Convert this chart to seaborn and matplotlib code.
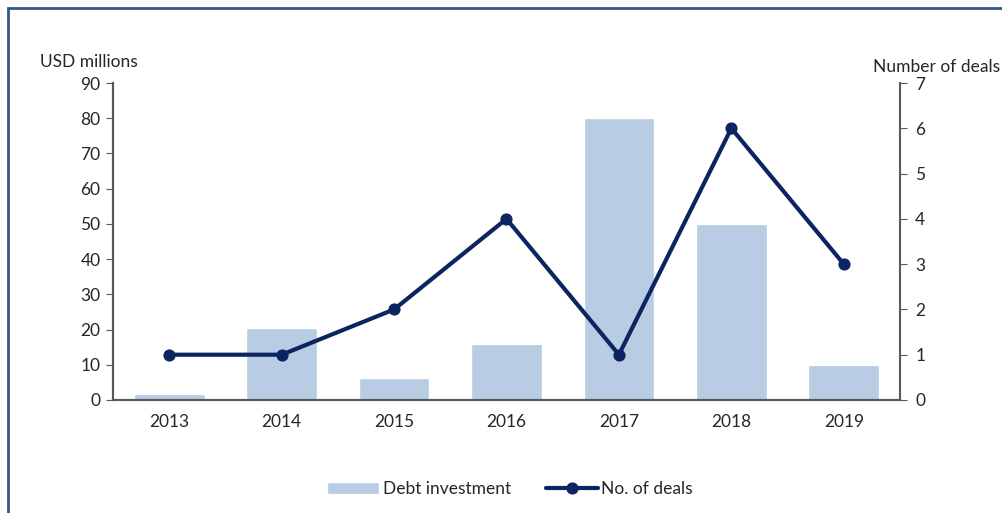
import matplotlib.pyplot as plt
import matplotlib.patches as patches
import seaborn as sns
import numpy as np

years = ["2013", "2014", "2015", "2016", "2017", "2018", "2019"]
debt_investment = [1.7, 20.3, 6.3, 16.0, 80.0, 50.0, 10.0]
num_deals = [1, 1, 2, 4, 1, 6, 3]

bar_color = "#b8cce4"
line_color = "#0c2461"
spine_color = "#595959"

sns.set_style("white")
plt.rcParams["font.family"] = ["Lato", "DejaVu Sans"]
plt.rcParams["font.size"] = 12.5

fig = plt.figure(figsize=(10.02, 5.13), dpi=100)
ax = fig.add_axes([113 / 1002, 1 - 400 / 513, 787 / 1002, 317 / 513])

sns.barplot(x=years, y=debt_investment, color=bar_color, width=0.63,
            saturation=1, ax=ax, label="Debt investment")
ax.set_ylim(0, 90)
ax.set_yticks(np.arange(0, 91, 10))
ax.set_xlim(-0.5, 6.5)
ax.set_xticks(np.arange(7))
ax.set_xticklabels(years)
ax.set_xticks(np.arange(-0.5, 7, 1), minor=True)
ax.tick_params(axis="x", which="major", length=0, pad=10)
ax.tick_params(axis="x", which="minor", length=5, direction="out", color=spine_color)
ax.tick_params(axis="y", length=5, direction="out", color=spine_color, pad=4)

ax2 = ax.twinx()
sns.lineplot(x=np.arange(7), y=num_deals, color=line_color, linewidth=3,
             marker="o", markersize=8, markeredgecolor=line_color, ax=ax2,
             label="No. of deals")
ax2.set_ylim(0, 7)
ax2.set_yticks(np.arange(0, 8, 1))
ax2.tick_params(axis="y", length=5, direction="out", color=spine_color, pad=6)
ax2.set_xlim(-0.5, 6.5)

for a in (ax, ax2):
    a.spines["top"].set_visible(False)
    for s in ("left", "right", "bottom"):
        a.spines[s].set_color(spine_color)
        a.spines[s].set_linewidth(1.5)
    a.set_ylabel("")
    a.set_xlabel("")
ax.spines["right"].set_visible(False)

fig.text(40 / 1002, 1 - 62 / 513, "USD millions", ha="left", va="center", fontsize=12.5)
fig.text(1000 / 1002, 1 - 67 / 513, "Number of deals", ha="right", va="center", fontsize=12.5)

h1, l1 = ax.get_legend_handles_labels()
h2, l2 = ax2.get_legend_handles_labels()
if ax.get_legend():
    ax.get_legend().remove()
if ax2.get_legend():
    ax2.get_legend().remove()
fig.legend(h1 + h2, l1 + l2, loc="center", bbox_to_anchor=(510 / 1002, 1 - 489 / 513),
           ncol=2, frameon=False, handlelength=3.0, handletextpad=0.2,
           columnspacing=2.0, fontsize=12.5)

# outer frame of the figure box
frame = patches.Rectangle((8 / 1002, -0.1), 1.2, 1 - 8 / 513 + 0.1,
                          transform=fig.transFigure, fill=False,
                          edgecolor="#36587e", linewidth=2, clip_on=False)
fig.patches.append(frame)

fig.savefig("out.png", dpi=100)
